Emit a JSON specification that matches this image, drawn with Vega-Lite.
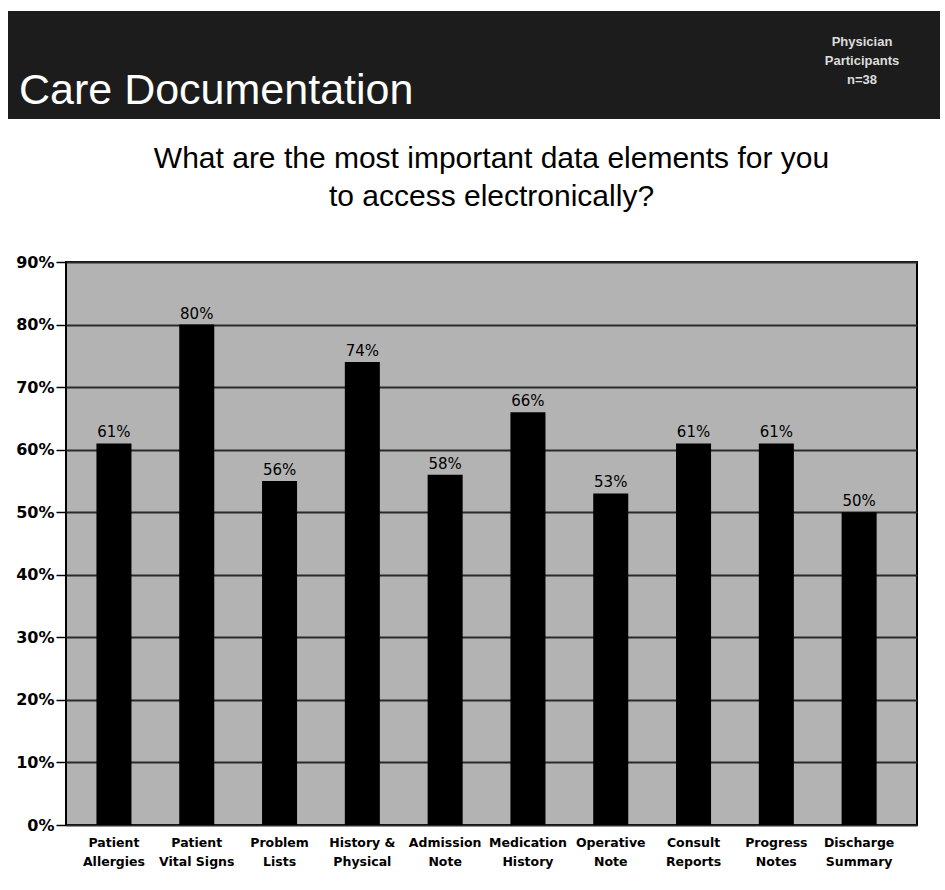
{
  "$schema": "https://vega.github.io/schema/vega-lite/v6.json",
  "padding": {"left": 8, "top": 11, "right": 5, "bottom": 5},
  "background": "white",
  "spacing": 24,
  "config": {"font": "Liberation Sans", "view": {"stroke": null}},
  "vconcat": [
    {
      "width": 874,
      "height": 108,
      "view": {"fill": "#1c1c1c", "stroke": null},
      "title": {
        "text": "Care Documentation",
        "orient": "bottom",
        "anchor": "start",
        "baseline": "alphabetic",
        "offset": -15,
        "dx": -47,
        "font": "Liberation Sans",
        "fontSize": 43,
        "fontWeight": "normal",
        "color": "#ffffff"
      },
      "data": {"values": [{"note": ["Physician", "Participants", "n=38"]}]},
      "mark": {
        "type": "text",
        "font": "Liberation Sans",
        "fontSize": 13,
        "fontWeight": "bold",
        "color": "#dddddd",
        "align": "center",
        "baseline": "top",
        "lineHeight": 19,
        "dy": 25
      },
      "encoding": {
        "text": {"field": "note"},
        "x": {"value": 796},
        "y": {
          "datum": 1,
          "type": "quantitative",
          "scale": {"domain": [0, 1], "nice": false},
          "axis": {
            "title": null,
            "labels": false,
            "ticks": false,
            "grid": false,
            "domain": true,
            "translate": 0,
            "domainColor": "#1c1c1c",
            "domainWidth": 116,
            "domainCap": "butt"
          }
        }
      }
    },
    {
      "width": 851,
      "height": 563,
      "title": {
        "text": ["What are the most important data elements for you", "to access electronically?"],
        "font": "Liberation Sans",
        "fontSize": 30,
        "fontWeight": "normal",
        "lineHeight": 38,
        "offset": 42,
        "anchor": "middle",
        "color": "#000000"
      },
      "view": {"fill": "#b3b3b3", "stroke": "#000000", "strokeWidth": 2},
      "data": {
        "values": [
          {"element": "Patient Allergies", "value": 61, "label": "61%"},
          {"element": "Patient Vital Signs", "value": 80, "label": "80%"},
          {"element": "Problem Lists", "value": 55, "label": "56%"},
          {"element": "History & Physical", "value": 74, "label": "74%"},
          {"element": "Admission Note", "value": 56, "label": "58%"},
          {"element": "Medication History", "value": 66, "label": "66%"},
          {"element": "Operative Note", "value": 53, "label": "53%"},
          {"element": "Consult Reports", "value": 61, "label": "61%"},
          {"element": "Progress Notes", "value": 61, "label": "61%"},
          {"element": "Discharge Summary", "value": 50, "label": "50%"}
        ]
      },
      "encoding": {
        "x": {
          "field": "element",
          "type": "nominal",
          "sort": null,
          "scale": {"paddingInner": 0.577, "paddingOuter": 0.4275, "align": 0.43},
          "axis": {
            "title": null,
            "labelAngle": 0,
            "labelFont": "DejaVu Sans",
            "labelFontWeight": "bold",
            "labelFontSize": 12.5,
            "labelColor": "#000000",
            "labelLineHeight": 19,
            "labelPadding": 11,
            "ticks": false,
            "domain": false,
            "grid": false,
            "labelExpr": "indexof(datum.label, ' & ') > 0 ? [substring(datum.label, 0, indexof(datum.label, ' & ') + 2), substring(datum.label, indexof(datum.label, ' & ') + 3)] : [substring(datum.label, 0, indexof(datum.label, ' ')), substring(datum.label, indexof(datum.label, ' ') + 1)]"
          }
        },
        "y": {
          "field": "value",
          "type": "quantitative",
          "scale": {"domain": [0, 90], "nice": false},
          "axis": {
            "title": " ",
            "titleFontSize": 2,
            "titlePadding": 0,
            "minExtent": 55,
            "values": [0, 10, 20, 30, 40, 50, 60, 70, 80, 90],
            "labelExpr": "datum.value + '%'",
            "labelFont": "DejaVu Sans",
            "labelFontWeight": "bold",
            "labelFontSize": 16,
            "labelColor": "#000000",
            "labelPadding": 2,
            "tickSize": 10,
            "tickColor": "#000000",
            "tickWidth": 1.5,
            "domain": false,
            "grid": true,
            "gridColor": "#2a2a2a",
            "gridWidth": 2,
            "gridOpacity": 1
          }
        }
      },
      "layer": [
        {"mark": {"type": "bar", "color": "#000000"}},
        {
          "mark": {
            "type": "text",
            "baseline": "bottom",
            "dy": -3,
            "font": "DejaVu Sans",
            "fontSize": 15,
            "color": "#000000"
          },
          "encoding": {"text": {"field": "label"}}
        }
      ]
    }
  ]
}
